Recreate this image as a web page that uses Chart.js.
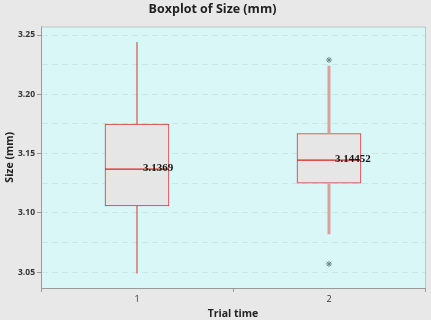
<!DOCTYPE html>
<html><head><meta charset="utf-8">
<script src="https://cdn.jsdelivr.net/npm/chart.js@4"></script>
<style>html,body{margin:0;padding:0;background:#e8e8e8}#c{display:block}</style>
</head><body>
<canvas id="c" width="431" height="320"></canvas>
<script>
// ---- data ----
const categories = [1, 2];
const mins    = [3.049, 3.082];
const q1s     = [3.106, 3.125];
const medians = [3.1369, 3.14452];
const q3s     = [3.175, 3.167];
const maxs    = [3.244, 3.224];
const outlierX = [2, 2];
const outlierY = [3.229, 3.057];
const yTicks = [3.05, 3.075, 3.10, 3.125, 3.15, 3.175, 3.20, 3.225, 3.25];
const yLabelTicks = [3.05, 3.10, 3.15, 3.20, 3.25];
const xTicks = [1, 2];
const medianLabels = ['3.1369', '3.14452'];

// ---- styles ----
const BOX_HALF = 1/6;           // half box width in x units
const BOX_PX = 64;
const whiskerColors = ['#d83030', '#d9a0a0'];
const whiskerWidths = [1, 3];

const datasets = [];
datasets.push({
  type: 'bar',
  data: categories.map((c, i) => ({x: c, y: [q1s[i], q3s[i]]})),
  backgroundColor: '#e6e6e6',
  borderColor: '#d83030',
  borderWidth: 1,
  borderSkipped: false,
  barThickness: BOX_PX,
  order: 5
});
categories.forEach((c, i) => {
  datasets.push({
    type: 'line',
    data: [{x: c, y: q3s[i]}, {x: c, y: maxs[i]}],
    borderColor: whiskerColors[i], borderWidth: whiskerWidths[i],
    pointRadius: 0, fill: false, order: 2
  });
  datasets.push({
    type: 'line',
    data: [{x: c, y: mins[i]}, {x: c, y: q1s[i]}],
    borderColor: whiskerColors[i], borderWidth: whiskerWidths[i],
    pointRadius: 0, fill: false, order: 2
  });
  datasets.push({
    type: 'line',
    data: [{x: c - BOX_HALF, y: medians[i]}, {x: c + BOX_HALF, y: medians[i]}],
    borderColor: '#dd2020', borderWidth: 1.3,
    pointRadius: 0, fill: false, order: 1
  });
});
datasets.push({
  type: 'scatter',
  data: outlierX.map((x, i) => ({x: x, y: outlierY[i]})),
  pointStyle: 'star', pointRadius: 3,
  borderColor: '#6a8888', backgroundColor: '#6a8888', borderWidth: 1,
  order: 0
});

const bgPlugin = {
  id: 'bg',
  beforeDraw(chart) {
    const {ctx, chartArea: a} = chart;
    ctx.save();
    ctx.fillStyle = '#e8e8e8';
    ctx.fillRect(0, 0, chart.width, chart.height);
    ctx.fillStyle = '#d9f7f7';
    ctx.fillRect(a.left, a.top, a.right - a.left, a.bottom - a.top);
    ctx.restore();
  },
  afterDraw(chart) {
    const {ctx, chartArea: a} = chart;
    ctx.save();
    ctx.strokeStyle = '#b8c6c6';
    ctx.lineWidth = 1;
    ctx.beginPath();
    ctx.moveTo(a.left, a.top + 0.5); ctx.lineTo(a.right + 0.5, a.top + 0.5);
    ctx.lineTo(a.right + 0.5, a.bottom);
    ctx.stroke();
    ctx.restore();
  }
};

const labelPlugin = {
  id: 'medlabels',
  afterDatasetsDraw(chart) {
    const {ctx, scales} = chart;
    ctx.save();
    ctx.font = 'bold 11px "Liberation Serif", "DejaVu Serif", serif';
    ctx.fillStyle = '#151515';
    ctx.textBaseline = 'middle';
    ctx.textAlign = 'left';
    categories.forEach((c, i) => {
      const x = scales.x.getPixelForValue(c) + 6;
      const y = scales.y.getPixelForValue(medians[i]) - 1;
      ctx.fillText(medianLabels[i], x, y);
    });
    ctx.restore();
  }
};

new Chart(document.getElementById('c'), {
  type: 'bar',
  data: {datasets},
  plugins: [bgPlugin, labelPlugin],
  options: {
    responsive: false,
    devicePixelRatio: 1,
    animation: false,
    layout: {padding: {left: 0, right: 6, top: 0, bottom: 0}},
    plugins: {
      legend: {display: false},
      tooltip: {enabled: false},
      title: {
        display: true,
        text: 'Boxplot of Size (mm)',
        color: '#222',
        font: {family: '"Open Sans", sans-serif', size: 12.5, weight: 'bold'},
        padding: {top: 2, bottom: 9.5}
      }
    },
    scales: {
      x: {
        type: 'linear', min: 0.5, max: 2.5, offset: false,
        afterBuildTicks: s => { s.ticks = xTicks.map(v => ({value: v})); },
        afterFit: s => { s.height = 32; },
        ticks: {color: '#333', font: {family: '"Open Sans", sans-serif', size: 9}, padding: 2, autoSkip: false,
                callback: v => String(v)},
        grid: {display: true, drawOnChartArea: false, tickLength: 4, tickColor: '#999'},
        border: {color: '#9a9a9a', width: 1},
        title: {display: true, text: 'Trial time', color: '#222',
                font: {family: '"Open Sans", sans-serif', size: 10.5, weight: 'bold'},
                padding: {top: 0, bottom: 0}}
      },
      y: {
        type: 'linear', min: 3.0367, max: 3.2572,
        afterBuildTicks: s => { s.ticks = yTicks.map(v => ({value: v})); },
        afterFit: s => { s.width = 41; },
        ticks: {color: '#333', font: {family: '"Open Sans", sans-serif', size: 8.5, weight: 'bold'}, padding: 2, autoSkip: false,
                callback: v => yLabelTicks.some(t => Math.abs(t - v) < 1e-9) ? v.toFixed(2) : ''},
        grid: {
          color: '#cbe6e6', lineWidth: 1, tickLength: 4,
          tickColor: c => yLabelTicks.some(t => Math.abs(t - c.tick.value) < 1e-9) ? '#999' : 'rgba(0,0,0,0)'
        },
        border: {color: '#9a9a9a', width: 1, dash: [6, 4]},
        title: {display: true, text: 'Size (mm)', color: '#222',
                font: {family: '"Open Sans", sans-serif', size: 10.5, weight: 'bold'},
                padding: {top: 4, bottom: 0}}
      }
    }
  }
});
</script>
</body></html>
